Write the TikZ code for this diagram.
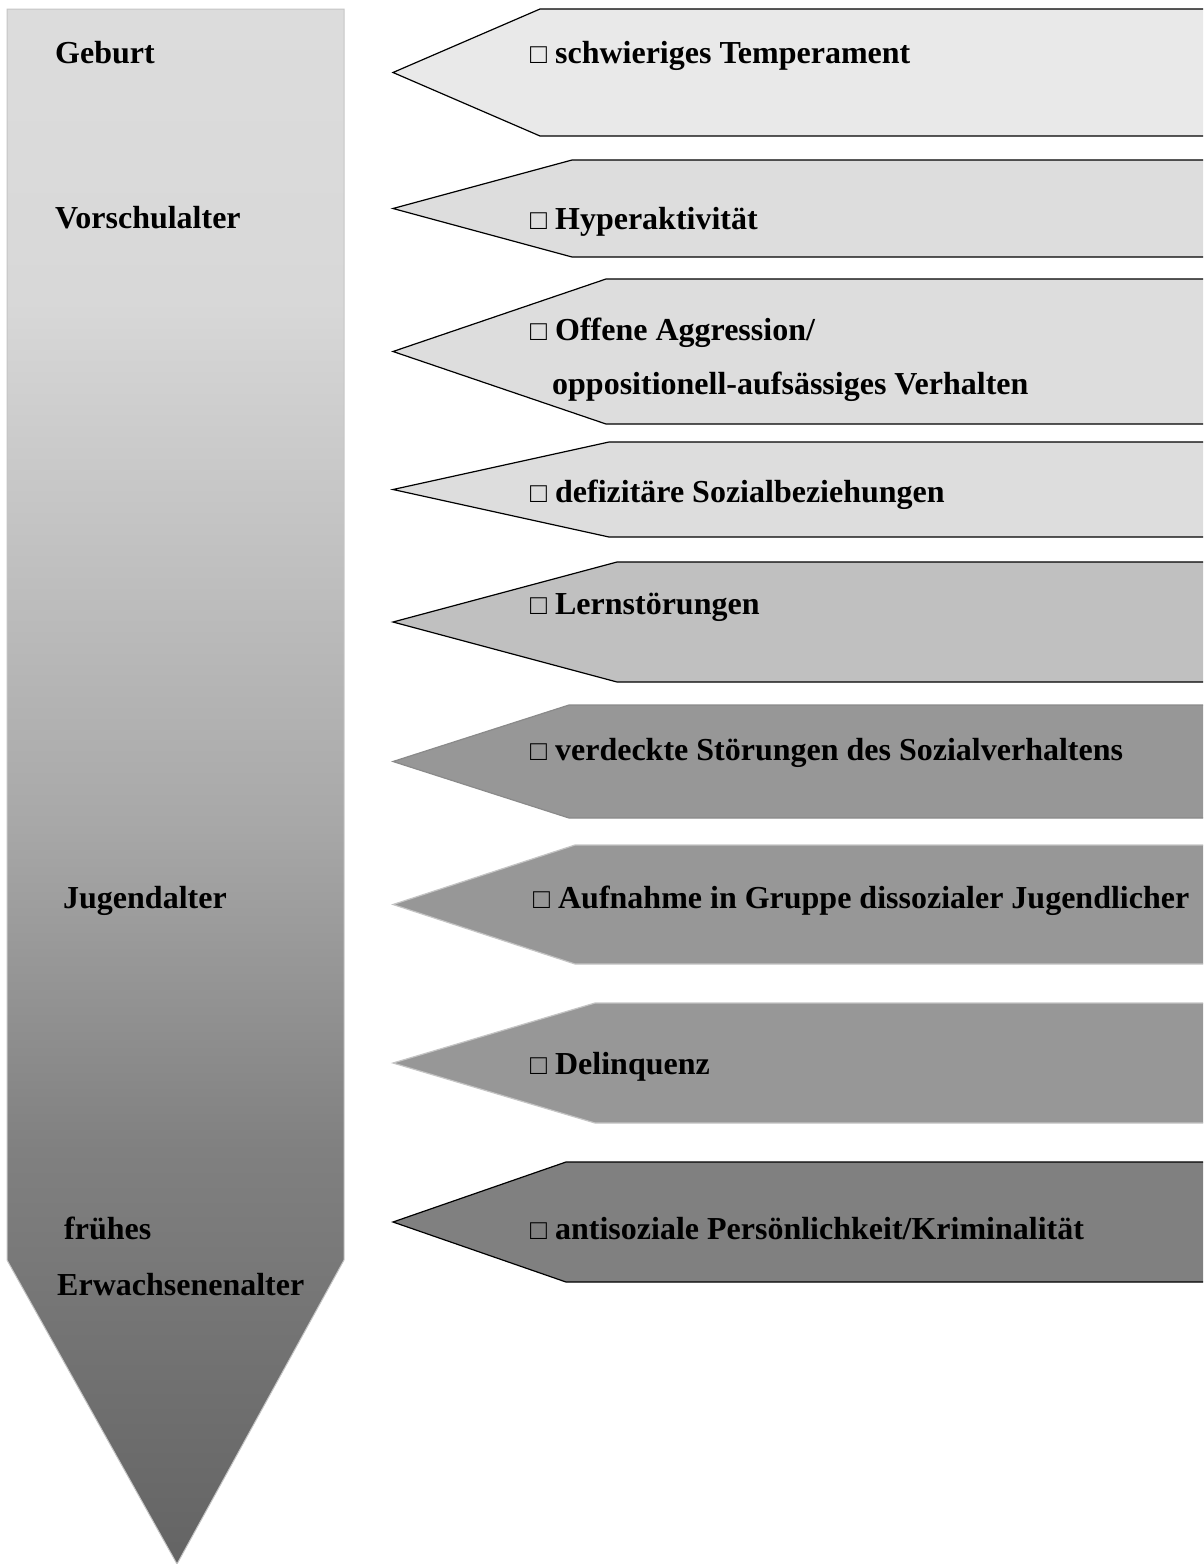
\documentclass[tikz,border=0pt]{standalone}
\usepackage{fontspec}
\setmainfont{Liberation Serif}

% vertical grey ramp for the time axis: light at the top, dark at the tip
\pgfdeclareverticalshading{timeline}{100bp}{%
  rgb(0bp)=(0.392,0.392,0.392);
  rgb(25bp)=(0.392,0.392,0.392);
  rgb(38.3bp)=(0.502,0.502,0.502);
  rgb(48.9bp)=(0.659,0.659,0.659);
  rgb(65.6bp)=(0.847,0.847,0.847);
  rgb(75bp)=(0.863,0.863,0.863);
  rgb(100bp)=(0.863,0.863,0.863)}

\definecolor{fillA}{HTML}{E9E9E9}
\definecolor{fillB}{HTML}{DDDDDD}
\definecolor{fillC}{HTML}{C0C0C0}
\definecolor{fillD}{HTML}{979797}
\definecolor{fillE}{HTML}{808080}
\definecolor{edgeGrey}{HTML}{8A8A8A}
\definecolor{edgeLight}{HTML}{C4C4C4}

% pointed band: #1 top y, #2 bottom y, #3 notch x, #4 style
\newcommand\riskband[4]{%
  \draw[#4] (393,{(#1+#2)/2}) -- (#3,#1) -- (1215,#1) -- (1215,#2) -- (#3,#2) -- cycle;}
% small check box in front of each item
\newcommand\chk{{\fontsize{28}{32}\selectfont □}}

\begin{document}
\begin{tikzpicture}[x=1pt,y=-1pt,
  txt/.style={anchor=base west, inner sep=0pt, text=black,
    font=\fontsize{32}{38}\selectfont\bfseries},
  band/.style={line width=1.2pt, line join=miter},
  darkedge/.style={band, draw=black},
  greyedge/.style={band, draw=edgeGrey},
  lightedge/.style={band, draw=edgeLight}]
\useasboundingbox (0,0) rectangle (1203,1564);
\clip (0,0) rectangle (1203,1564);

% time axis
\shade[shading=timeline, draw=edgeLight, line width=1pt]
  (7,9) -- (344,9) -- (344,1260) -- (177,1564) -- (7,1260) -- cycle;

\node[txt] (geburt)  at (55,63)   {Geburt};
\node[txt] (vorsch)  at (55,228)  {Vorschulalter};
\node[txt] (jugend)  at (63,908)  {Jugendalter};
\node[txt] (frueh)   at (64,1239) {frühes};
\node[txt] (erwachs) at (57,1295) {Erwachsenenalter};

% risk bands
\riskband{9}{136}{540}{darkedge, fill=fillA}
\riskband{160}{257}{572}{darkedge, fill=fillB}
\riskband{279}{424}{606}{darkedge, fill=fillB}
\riskband{442}{537}{609}{darkedge, fill=fillB}
\riskband{562}{682}{617}{darkedge, fill=fillC}
\riskband{705}{818}{569}{greyedge, fill=fillD}
\riskband{845}{964}{575}{lightedge, fill=fillD}
\riskband{1003}{1123}{595}{lightedge, fill=fillD}
\riskband{1162}{1282}{566}{darkedge, fill=fillE}

\node[txt] (temp)   at (530,63)   {\chk\ schwieriges Temperament};
\node[txt] (hyper)  at (530,229)  {\chk\ Hyperaktivität};
\node[txt] (aggr)   at (530,340)  {\chk\ Offene Aggression/};
\node[txt] (oppos)  at (552,394)  {oppositionell-aufsässiges Verhalten};
\node[txt] (sozial) at (530,502)  {\chk\ defizitäre Sozialbeziehungen};
\node[txt] (lern)   at (530,614)  {\chk\ Lernstörungen};
\node[txt] (verd)   at (530,760)  {\chk\ verdeckte Störungen des Sozialverhaltens};
\node[txt] (gruppe) at (533,908)  {\chk\ Aufnahme in Gruppe dissozialer Jugendlicher};
\node[txt] (delinq) at (530,1074) {\chk\ Delinquenz};
\node[txt] (antis)  at (530,1239) {\chk\ antisoziale Persönlichkeit/Kriminalität};
\end{tikzpicture}
\end{document}
